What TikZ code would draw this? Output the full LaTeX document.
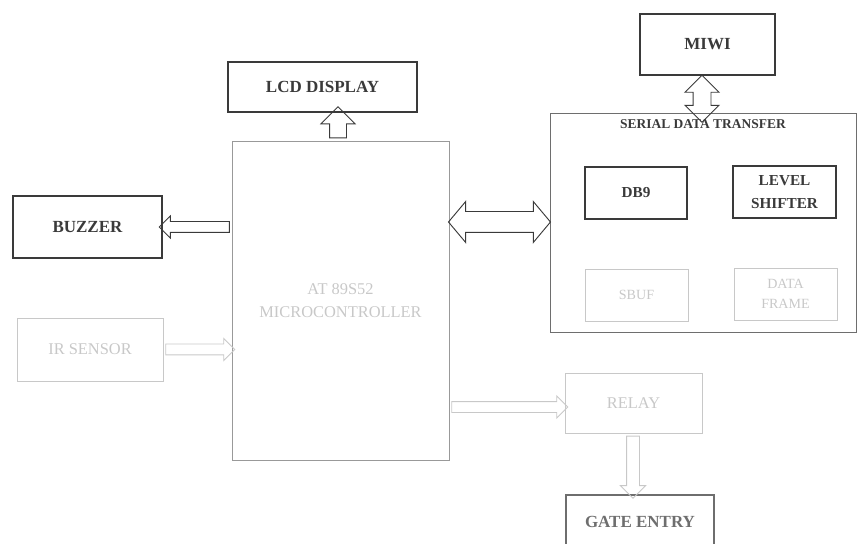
\documentclass[tikz,border=0pt]{standalone}
\usepackage{fontspec}
\setmainfont{Liberation Serif}
\usetikzlibrary{calc, shapes.arrows}
\definecolor{inkdark}{HTML}{3A3A3A}
\definecolor{inkmid}{HTML}{6E6E6E}
\definecolor{inkfaint}{HTML}{C8C8C8}

\begin{document}
\begin{tikzpicture}[
        x=0.03cm, y=-0.03cm,
        sz/.style 2 args={minimum width=#1*0.03cm, minimum height=#2*0.03cm},
        box/.style={draw=inkdark, line width=0.9pt, inner sep=0pt, align=center, text=inkdark, font=\bfseries\fontsize{14.5}{20}\selectfont},
        smallbox/.style={box, font=\bfseries\fontsize{13}{20}\selectfont},
        faintbox/.style={draw=inkfaint, line width=0.7pt, inner sep=0pt, align=center, text=inkfaint, font=\fontsize{14}{19.5}\selectfont},
        hollow/.style n args={3}{single arrow, draw=inkdark, line width=0.8pt, inner xsep=0pt, inner ysep=#2*0.015cm, minimum height=#1*0.03cm, single arrow head extend=(#3-#2)*0.015cm},
        twoway/.style n args={3}{double arrow, draw=inkdark, line width=0.8pt, inner xsep=0pt, inner ysep=#2*0.015cm, minimum height=#1*0.03cm, double arrow head extend=(#3-#2)*0.015cm}
    ]
        \useasboundingbox (0,0) rectangle (867,544);

        \node[box, sz={189}{50}] (lcd) at (322.5,87) {LCD DISPLAY};
        \node[faintbox, sz={217}{319}, draw=inkmid!70] (micro) at (340.5,300.5) {AT 89S52\\MICROCONTROLLER};
        \node[box, sz={149}{62}] (buzzer) at (87.5,227) {BUZZER};
        \node[faintbox, sz={146}{63}] (irsensor) at (90,349.5) {IR SENSOR};

        \node[draw=inkmid, line width=0.8pt, sz={306}{219}] (serial) at (703,222.5) {};
        \node[font=\bfseries\fontsize{11.5}{14}\selectfont, text=inkdark] (serialtitle) at (703,124) {SERIAL DATA TRANSFER};
        \node[smallbox, sz={102}{52}] (db9) at (636,193) {DB9};
        \node[smallbox, sz={103}{52}] (shifter) at (784.5,192) {LEVEL\\SHIFTER};
        \node[faintbox, sz={103}{52}, font=\fontsize{12}{17}\selectfont] (sbuf) at (636.5,295) {SBUF};
        \node[faintbox, sz={103}{52}, font=\fontsize{12}{17}\selectfont] (frame) at (785.5,294) {DATA\\FRAME};

        \node[box, sz={135}{61}] (miwi) at (707.5,44.5) {MIWI};
        \node[faintbox, sz={137}{60}] (relay) at (633.5,403) {RELAY};
        \node[box, sz={148}{54}, draw=inkmid, text=inkmid] (gate) at (640,522) {GATE ENTRY};

        % hollow block arrows between the blocks
        \node[hollow={31}{16}{33}, rotate=90] (lcdlink) at ($(338,0 |- lcd.south)!0.5!(338,0 |- micro.north)$) {};
        \node[hollow={70}{10}{21}, rotate=180] (buzzlink) at ($(buzzer.east)!0.5!(micro.west |- buzzer.east)$) {};
        \node[hollow={69}{10}{21}, draw=inkfaint] (irlink) at ($(irsensor.east)!0.5!(micro.west |- irsensor.east)$) {};
        \node[twoway={102}{20}{40}, double arrow tip angle=100] (seriallink) at ($(micro.east |- 0,222)!0.5!(serial.west |- 0,222)$) {};
        \node[twoway={47}{17}{33}, rotate=90] (miwilink) at ($(702,0 |- miwi.south)!0.5!(702,122)$) {};
        \node[hollow={116}{10}{21}, draw=inkfaint] (relaylink) at ($(micro.east |- 0,407)!0.5!(relay.west |- 0,407)$) {};
        \node[hollow={62}{12}{24}, rotate=-90, draw=inkfaint] (gatelink) at ($(633,0 |- relay.south)!0.5!(633,0 |- gate.north)$) {};
    \end{tikzpicture}
\end{document}
